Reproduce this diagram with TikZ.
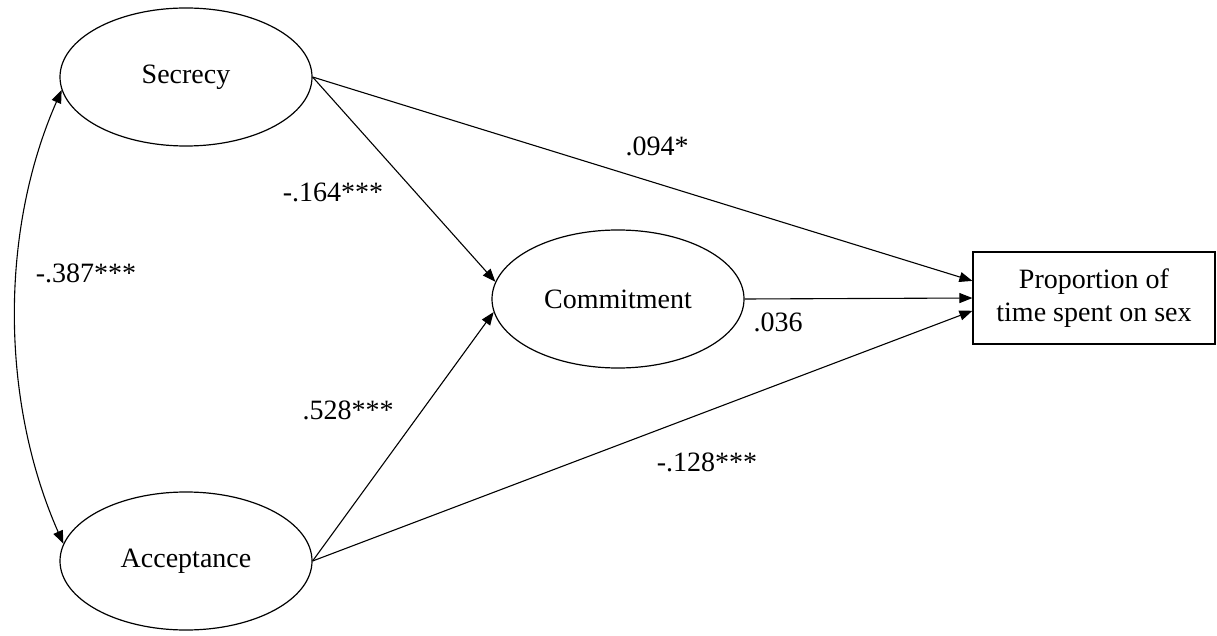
\documentclass[tikz,border=0pt]{standalone}
\usepackage{fontspec}
\setmainfont{Liberation Serif}
\usetikzlibrary{arrows.meta,shapes.geometric}
\begin{document}
\begin{tikzpicture}[x=1pt,y=-1pt,
  every node/.style={font=\fontsize{28}{33}\selectfont},
  latent/.style={draw,ellipse,line width=1.2pt,minimum width=252pt,minimum height=138pt,inner sep=0pt},
  obs/.style={draw,rectangle,line width=1.2pt,minimum width=242pt,minimum height=92pt,align=center,inner sep=0pt},
  path/.style={line width=1.1pt,-{Triangle[length=13pt,width=10pt]}},
  lbl/.style={inner sep=0pt}]
\useasboundingbox (0,0) rectangle (1217,636);
\node[latent] (sec) at (186,77) {Secrecy};
\node[latent] (acc) at (186,561) {Acceptance};
\node[latent] (com) at (618,299) {Commitment};
\node[obs] (box) at (1094,298) {Proportion of\\time spent on sex};
\draw[line width=1.1pt,{Triangle[length=13pt,width=10pt]}-{Triangle[length=13pt,width=10pt]}]
  (sec.186) .. controls (0,230) and (0,400) .. (acc.172);
\draw[path] (sec.east) -- (box.172);
\draw[path] (sec.east) -- (com.172);
\draw[path] (acc.east) -- (com.186);
\draw[path] (acc.east) -- (box.186);
\draw[path] (com.east) -- (box.west);
\node[lbl] (l1) at (86,273) {-.387***};
\node[lbl] (l2) at (657,146) {.094*};
\node[lbl] (l3) at (333,192) {-.164***};
\node[lbl] (l4) at (348,410) {.528***};
\node[lbl] (l5) at (778,322) {.036};
\node[lbl] (l6) at (707,462) {-.128***};
\end{tikzpicture}
\end{document}
